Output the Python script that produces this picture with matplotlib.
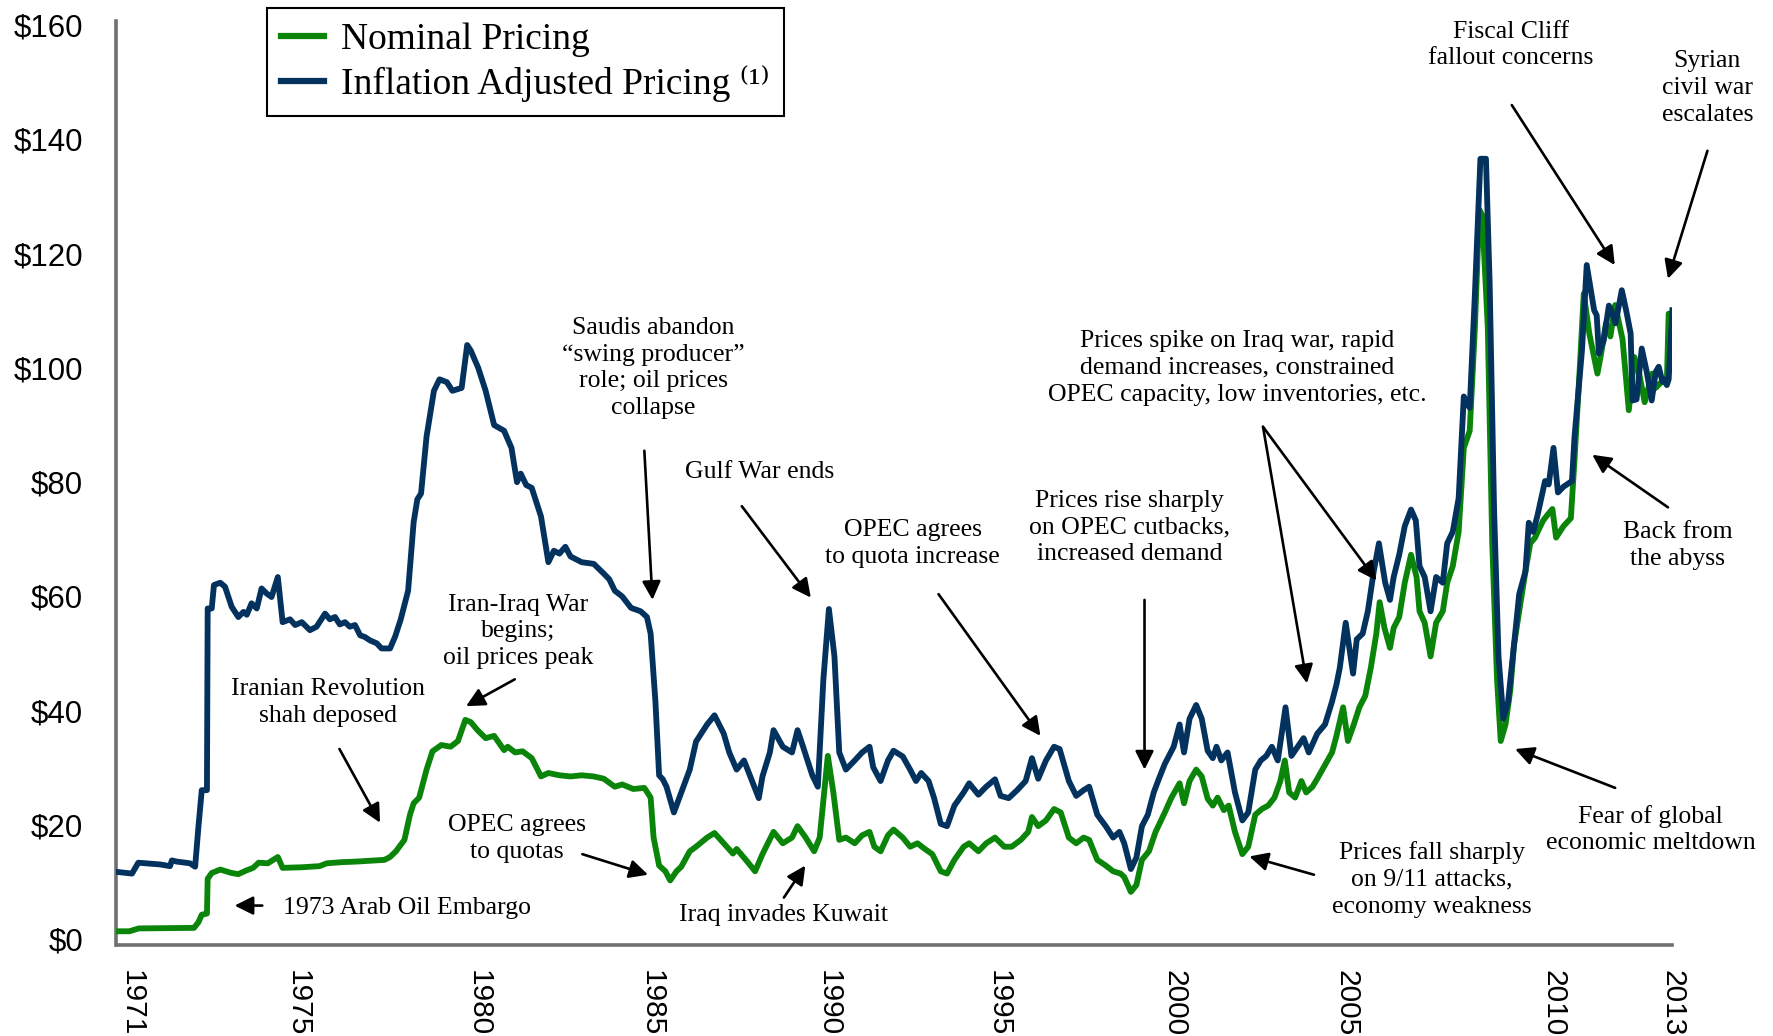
import matplotlib
matplotlib.use("Agg")
import matplotlib.pyplot as plt

# ---------------- data ----------------
real_years = [1971.50, 1971.92, 1972.09, 1972.68, 1972.95, 1973.00, 1973.13, 1973.49, 1973.63, 1973.72,
              1973.81, 1973.95, 1973.97, 1974.08, 1974.14, 1974.31, 1974.44, 1974.62, 1974.80, 1974.94,
              1975.03, 1975.16, 1975.30, 1975.43, 1975.57, 1975.70, 1975.87, 1976.00, 1976.20, 1976.34,
              1976.52, 1976.74, 1976.92, 1977.15, 1977.28, 1977.42, 1977.55, 1977.69, 1977.82, 1977.96,
              1978.10, 1978.23, 1978.37, 1978.55, 1978.68, 1978.91, 1979.05, 1979.20, 1979.40, 1979.55,
              1979.65, 1979.75, 1979.90, 1980.10, 1980.25, 1980.45, 1980.60, 1980.85, 1981.00, 1981.10,
              1981.30, 1981.50, 1981.73, 1982.00, 1982.20, 1982.35, 1982.45, 1982.60, 1982.75, 1983.00,
              1983.20, 1983.35, 1983.50, 1983.66, 1983.80, 1983.95, 1984.10, 1984.43, 1984.70, 1984.85,
              1985.00, 1985.20, 1985.44, 1985.70, 1985.87, 1985.97, 1986.10, 1986.20, 1986.30, 1986.40,
              1986.60, 1986.80, 1987.03, 1987.20, 1987.50, 1987.70, 1987.95, 1988.10, 1988.30, 1988.50,
              1988.70, 1988.90, 1989.00, 1989.20, 1989.30, 1989.55, 1989.80, 1989.95, 1990.10, 1990.35,
              1990.50, 1990.65, 1990.80, 1990.95, 1991.08, 1991.26, 1991.50, 1991.70, 1991.90, 1992.00,
              1992.20, 1992.40, 1992.55, 1992.80, 1993.00, 1993.16, 1993.30, 1993.50, 1993.65, 1993.83,
              1994.00, 1994.20, 1994.45, 1994.60, 1994.85, 1995.06, 1995.30, 1995.45, 1995.67, 1995.90,
              1996.13, 1996.30, 1996.47, 1996.68, 1996.90, 1997.05, 1997.30, 1997.50, 1997.70, 1997.85,
              1998.07, 1998.30, 1998.50, 1998.67, 1998.80, 1998.98, 1999.13, 1999.28, 1999.44, 1999.60,
              1999.74, 1999.90, 2000.14, 2000.30, 2000.42, 2000.57, 2000.75, 2000.90, 2001.06, 2001.20,
              2001.30, 2001.43, 2001.60, 2001.80, 2002.00, 2002.16, 2002.35, 2002.50, 2002.65, 2002.80,
              2002.96, 2003.17, 2003.33, 2003.50, 2003.66, 2003.80, 2004.03, 2004.24, 2004.43, 2004.55,
              2004.64, 2004.80, 2005.00, 2005.10, 2005.26, 2005.40, 2005.56, 2005.70, 2005.87, 2006.00,
              2006.10, 2006.25, 2006.40, 2006.57, 2006.70, 2006.80, 2006.94, 2007.10, 2007.25, 2007.43,
              2007.55, 2007.70, 2007.86, 2008.00, 2008.16, 2008.30, 2008.45, 2008.60, 2008.70, 2008.82,
              2008.94, 2009.07, 2009.20, 2009.36, 2009.50, 2009.67, 2009.76, 2009.88, 2010.00, 2010.20,
              2010.30, 2010.43, 2010.55, 2010.70, 2010.93, 2011.00, 2011.20, 2011.33, 2011.53, 2011.60,
              2011.66, 2011.79, 2011.93, 2012.00, 2012.11, 2012.28, 2012.40, 2012.52, 2012.57, 2012.68,
              2012.82, 2012.95, 2013.09, 2013.20, 2013.28, 2013.38, 2013.43, 2013.50, 2013.55, 2013.65]
real_price = [11.8, 11.5, 13.4, 13.1, 12.8, 13.8, 13.6, 13.3, 12.7, 19.7,
              26.1, 26.1, 57.9, 57.9, 62.0, 62.4, 61.7, 58.2, 56.4, 57.3,
              56.8, 58.8, 57.9, 61.4, 60.5, 59.9, 63.4, 55.5, 56.0, 55.0,
              55.5, 54.1, 54.7, 57.0, 56.0, 56.4, 55.1, 55.5, 54.7, 55.0,
              53.2, 52.9, 52.3, 51.8, 50.9, 50.9, 53.0, 56.0, 61.0, 73.0,
              77.0, 78.0, 88.0, 96.0, 98.0, 97.5, 96.0, 96.5, 104.0, 103.0,
              100.0, 96.0, 90.0, 89.0, 86.0, 80.0, 81.5, 79.5, 79.0, 74.0,
              66.0, 68.0, 67.5, 68.7, 67.0, 66.5, 66.0, 65.7, 64.0, 63.0,
              61.0, 60.0, 58.0, 57.4, 56.4, 53.5, 41.6, 28.7, 28.0, 26.7,
              22.2, 25.7, 29.7, 34.6, 37.6, 39.2, 36.0, 32.7, 29.7, 31.3,
              28.0, 24.7, 28.5, 32.7, 36.6, 33.7, 32.7, 36.6, 33.7, 28.7,
              26.7, 45.5, 57.8, 49.5, 32.7, 29.7, 31.3, 32.7, 33.7, 30.1,
              27.7, 31.3, 33.0, 32.0, 29.7, 27.7, 29.1, 27.7, 24.7, 20.2,
              19.8, 23.4, 25.7, 27.3, 25.3, 26.7, 28.0, 25.1, 24.7, 26.1,
              27.7, 31.7, 28.1, 31.3, 33.7, 33.3, 27.7, 25.1, 26.1, 26.7,
              21.8, 19.8, 17.8, 18.8, 16.8, 12.3, 14.3, 19.8, 21.8, 25.7,
              28.1, 30.7, 33.7, 37.6, 32.7, 38.6, 41.0, 38.6, 33.0, 31.7,
              33.7, 31.3, 32.7, 25.7, 20.8, 22.2, 29.7, 31.3, 32.1, 33.7,
              31.3, 40.6, 32.1, 33.7, 35.2, 32.7, 36.0, 37.6, 41.6, 44.6,
              47.5, 55.4, 46.5, 52.5, 53.5, 57.4, 64.4, 69.3, 62.4, 59.4,
              63.4, 67.3, 72.3, 75.2, 73.3, 65.3, 63.4, 57.4, 63.4, 62.4,
              69.3, 71.3, 77.2, 95.0, 93.0, 112.9, 136.6, 136.6, 114.8, 75.2,
              49.5, 38.6, 41.6, 51.5, 60.4, 64.4, 72.9, 71.3, 74.3, 80.2,
              79.6, 86.0, 78.2, 79.2, 80.2, 88.0, 103.0, 118.0, 110.1, 109.2,
              102.5, 104.8, 110.9, 110.0, 107.8, 113.6, 110.0, 106.0, 94.3, 94.5,
              103.4, 99.5, 94.3, 99.3, 100.2, 97.6, 98.0, 97.0, 98.0, 110.1]

nominal_years = [1971.50, 1971.85, 1972.10, 1973.60, 1973.72, 1973.81, 1973.95, 1973.97, 1974.08, 1974.31,
                 1974.62, 1974.80, 1975.00, 1975.20, 1975.35, 1975.60, 1975.87, 1976.00, 1976.50, 1977.00,
                 1977.20, 1977.60, 1978.00, 1978.50, 1978.76, 1978.91, 1979.07, 1979.30, 1979.45, 1979.55,
                 1979.70, 1979.90, 1980.06, 1980.30, 1980.55, 1980.75, 1980.95, 1981.10, 1981.28, 1981.50,
                 1981.73, 1982.00, 1982.10, 1982.30, 1982.50, 1982.75, 1983.00, 1983.20, 1983.50, 1983.80,
                 1984.10, 1984.43, 1984.70, 1985.00, 1985.20, 1985.50, 1985.80, 1985.97, 1986.05, 1986.20,
                 1986.37, 1986.50, 1986.67, 1986.80, 1987.03, 1987.20, 1987.50, 1987.70, 1987.95, 1988.20,
                 1988.30, 1988.55, 1988.80, 1989.00, 1989.30, 1989.55, 1989.80, 1989.95, 1990.17, 1990.40,
                 1990.55, 1990.77, 1990.92, 1991.08, 1991.26, 1991.50, 1991.70, 1991.90, 1992.03, 1992.20,
                 1992.40, 1992.55, 1992.80, 1993.00, 1993.20, 1993.40, 1993.60, 1993.83, 1994.00, 1994.20,
                 1994.45, 1994.60, 1994.85, 1995.06, 1995.30, 1995.55, 1995.75, 1996.00, 1996.20, 1996.30,
                 1996.47, 1996.68, 1996.90, 1997.08, 1997.30, 1997.50, 1997.70, 1997.85, 1998.07, 1998.30,
                 1998.50, 1998.70, 1998.80, 1998.98, 1999.13, 1999.28, 1999.47, 1999.65, 1999.90, 2000.08,
                 2000.30, 2000.42, 2000.57, 2000.75, 2000.90, 2001.06, 2001.20, 2001.33, 2001.50, 2001.63,
                 2001.80, 2002.00, 2002.16, 2002.35, 2002.53, 2002.70, 2002.87, 2003.03, 2003.15, 2003.27,
                 2003.43, 2003.60, 2003.73, 2003.90, 2004.03, 2004.24, 2004.43, 2004.55, 2004.73, 2004.86,
                 2005.02, 2005.17, 2005.33, 2005.48, 2005.63, 2005.72, 2005.85, 2006.00, 2006.10, 2006.25,
                 2006.40, 2006.57, 2006.72, 2006.80, 2006.94, 2007.10, 2007.25, 2007.43, 2007.55, 2007.70,
                 2007.86, 2008.00, 2008.16, 2008.30, 2008.42, 2008.50, 2008.65, 2008.77, 2008.90, 2009.00,
                 2009.13, 2009.26, 2009.36, 2009.50, 2009.67, 2009.80, 2009.93, 2010.00, 2010.15, 2010.27,
                 2010.40, 2010.50, 2010.70, 2010.90, 2011.00, 2011.15, 2011.25, 2011.40, 2011.62, 2011.72,
                 2011.85, 2011.97, 2012.10, 2012.20, 2012.30, 2012.47, 2012.62, 2012.75, 2012.90, 2013.10,
                 2013.20, 2013.35, 2013.50, 2013.55, 2013.62]
nominal_price = [1.4, 1.4, 1.9, 2.0, 3.0, 4.3, 4.5, 10.6, 11.6, 12.2,
                 11.6, 11.4, 12.0, 12.5, 13.4, 13.3, 14.4, 12.5, 12.6, 12.8,
                 13.3, 13.5, 13.6, 13.8, 13.9, 14.4, 15.4, 17.4, 21.8, 23.8,
                 24.8, 29.7, 32.9, 34.0, 33.7, 34.7, 38.4, 38.0, 36.6, 35.2,
                 35.6, 33.1, 33.7, 32.7, 32.9, 31.7, 28.5, 29.1, 28.7, 28.5,
                 28.7, 28.5, 28.1, 26.7, 27.1, 26.3, 26.5, 24.8, 17.8, 12.9,
                 11.9, 10.3, 11.9, 12.7, 15.4, 16.2, 17.8, 18.6, 16.8, 15.0,
                 15.8, 13.9, 11.9, 14.9, 18.8, 16.8, 17.8, 19.8, 17.8, 15.4,
                 17.8, 32.1, 25.7, 17.4, 17.8, 16.8, 18.2, 18.8, 16.2, 15.4,
                 18.2, 19.2, 17.8, 16.2, 16.8, 15.8, 14.9, 11.9, 11.5, 13.9,
                 16.2, 16.8, 15.4, 16.8, 17.8, 16.2, 16.2, 17.4, 18.8, 21.4,
                 19.8, 20.8, 22.8, 22.2, 17.8, 16.8, 17.8, 17.4, 13.9, 12.9,
                 11.9, 11.5, 10.9, 8.3, 9.5, 13.9, 15.4, 18.8, 22.2, 24.8,
                 27.3, 23.8, 27.7, 29.7, 28.5, 24.6, 23.4, 24.8, 22.6, 23.4,
                 18.8, 14.9, 16.2, 21.8, 22.8, 23.4, 24.8, 27.7, 31.3, 25.7,
                 24.8, 27.7, 25.7, 26.7, 28.1, 30.5, 32.7, 35.6, 40.6, 34.7,
                 37.6, 40.6, 42.6, 47.5, 53.5, 59.0, 54.5, 51.0, 54.5, 56.4,
                 62.4, 67.3, 63.4, 57.4, 55.4, 49.5, 55.4, 57.4, 62.4, 65.3,
                 71.3, 86.0, 89.0, 107.0, 127.7, 126.7, 107.0, 69.3, 45.5, 34.7,
                 37.6, 43.6, 51.5, 57.4, 64.4, 69.3, 70.3, 71.3, 73.3, 74.3,
                 75.3, 70.3, 72.3, 73.7, 84.0, 101.0, 113.0, 106.0, 99.0, 102.5,
                 107.8, 105.5, 111.0, 108.0, 105.0, 92.6, 101.9, 99.0, 94.0, 99.0,
                 96.5, 97.5, 97.5, 109.5, 109.5]

series_labels = ["Nominal Pricing", "Inflation Adjusted Pricing \u207d\u00b9\u207e"]

y_ticks = [0, 20, 40, 60, 80, 100, 120, 140, 160]
y_tick_labels = ["$0", "$20", "$40", "$60", "$80", "$100", "$120", "$140", "$160"]
x_tick_labels = ["1971", "1975", "1980", "1985", "1990", "1995", "2000", "2005", "2010", "2013"]
x_tick_pos = [1971.90, 1976.42, 1981.32, 1986.0, 1990.80, 1995.40, 2000.16, 2004.82, 2010.42, 2013.64]

# annotations: text, text centre, alignment, arrow tail, arrow heads
annotations = [
    ("1973 Arab Oil Embargo", (1976.0, 5.5), "left", (1975.45, 5.9), [(1974.7, 5.9)]),
    ("Iranian Revolution\nshah deposed", (1977.23, 41.4), "center", (1977.54, 33.3), [(1978.64, 20.4)]),
    ("Iran-Iraq War\nbegins;\noil prices peak", (1982.38, 53.9), "center", (1982.29, 45.5), [(1980.97, 40.8)]),
    ("OPEC agrees\nto quotas", (1982.35, 17.6), "center", (1984.12, 14.9), [(1985.9, 11.3)]),
    ("Saudis abandon\n\u201cswing producer\u201d\nrole; oil prices\ncollapse", (1986.05, 100.0), "center",
     (1985.8, 85.5), [(1986.02, 59.4)]),
    ("Gulf War ends", (1988.93, 81.8), "center", (1988.44, 75.8), [(1990.31, 59.8)]),
    ("Iraq invades Kuwait", (1989.58, 4.2), "center", (1989.58, 7.3), [(1990.16, 12.9)]),
    ("OPEC agrees\nto quota increase", (1993.07, 69.3), "center", (1993.77, 60.4), [(1996.53, 35.6)]),
    ("Prices rise sharply\non OPEC cutbacks,\nincreased demand", (1998.95, 72.1), "center",
     (1999.35, 59.4), [(1999.35, 29.7)]),
    ("Prices spike on Iraq war, rapid\ndemand increases, constrained\nOPEC capacity, low inventories, etc.",
     (2001.86, 100.0), "center", (2002.56, 89.7), [(2003.75, 44.8), (2005.63, 62.8)]),
    ("Prices fall sharply\non 9/11 attacks,\neconomy weakness", (2007.13, 10.5), "center",
     (2003.94, 11.3), [(2002.19, 14.5)]),
    ("Fiscal Cliff\nfallout concerns", (2009.27, 156.5), "center", (2009.3, 146.0), [(2012.09, 118.0)]),
    ("Syrian\ncivil war\nescalates", (2014.6, 149.0), "center", (2014.6, 138.0), [(2013.53, 115.6)]),
    ("Back from\nthe abyss", (2013.8, 68.9), "center", (2013.53, 75.6), [(2011.48, 84.8)]),
    ("Fear of global\neconomic meltdown", (2013.06, 19.2), "center", (2012.1, 26.5), [(2009.39, 33.3)]),
]

# ---------------- drawing ----------------
GREEN = "#0a850a"
NAVY = "#04325f"
SERIF = ["Liberation Serif", "DejaVu Serif"]
SANS = ["Liberation Sans", "DejaVu Sans"]

fig = plt.figure(figsize=(17.74, 10.36), dpi=100)
ax = fig.add_axes([116.5 / 1774, 1 - 945 / 1036, (1672 - 116.5) / 1774, (945 - 20.5) / 1036])

ax.plot(nominal_years, nominal_price, color=GREEN, lw=4.2, solid_joinstyle="round",
        label=series_labels[0], zorder=3)
ax.plot(real_years, real_price, color=NAVY, lw=4.2, solid_joinstyle="round",
        label=series_labels[1], zorder=4)

ax.set_xlim(1971.5, 2013.6)
ax.set_ylim(-1.0, 160.8)

for s in ["top", "right"]:
    ax.spines[s].set_visible(False)
for s in ["left", "bottom"]:
    ax.spines[s].set_color("#707070")
    ax.spines[s].set_linewidth(2.6)

ax.set_yticks(y_ticks)
ax.set_yticklabels(y_tick_labels, fontfamily=SANS, fontsize=22.5)
ax.set_xticks(x_tick_pos)
ax.set_xticklabels(x_tick_labels, fontfamily=SANS, fontsize=21.5, rotation=-90, va="top", ha="center")
ax.tick_params(axis="y", length=0, pad=24)
ax.tick_params(axis="x", length=0, pad=18)

arrow_kw = dict(arrowstyle="-|>", lw=1.9, color="black", mutation_scale=28, shrinkA=0, shrinkB=0)
for text, pos, ha, tail, heads in annotations:
    ax.text(pos[0], pos[1], text, ha=ha, va="center", multialignment="center",
            fontfamily=SERIF, fontsize=18.5, linespacing=1.28, zorder=5, clip_on=False)
    for h in heads:
        ax.annotate("", xy=h, xytext=tail, arrowprops=arrow_kw, annotation_clip=False, zorder=5)

leg = ax.legend(loc="upper left", bbox_to_anchor=(267 / 1774, 1 - 8 / 1036),
                bbox_transform=fig.transFigure, borderaxespad=0, fancybox=False,
                framealpha=1, edgecolor="black", prop={"family": SERIF, "size": 27},
                handlelength=1.15, handletextpad=0.45, borderpad=0.38, labelspacing=0.22)
leg.get_frame().set_linewidth(1.5)
for line in leg.get_lines():
    line.set_linewidth(4.5)

fig.savefig("out.png", dpi=100)
